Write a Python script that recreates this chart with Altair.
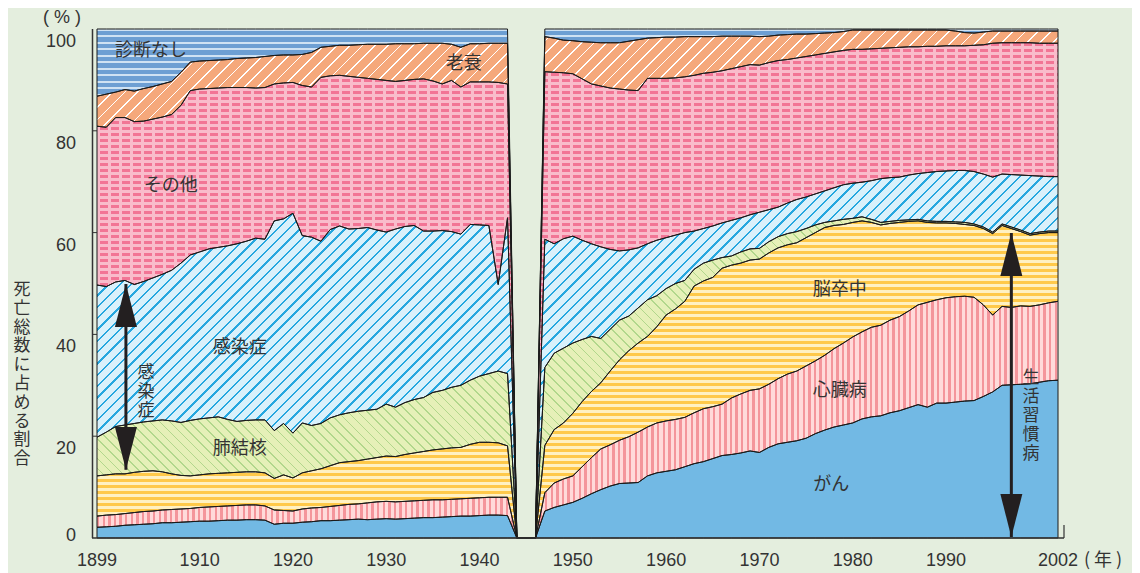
import math
import numpy as np
import pandas as pd
import altair as alt

# ---------------------------------------------------------------- data
CAUSES = ["がん", "心臓病", "脳卒中", "肺結核", "感染症", "その他", "老衰", "診断なし"]

YEARS_PRE = list(range(1899, 1944))
YEARS_GAP = [1944, 1945, 1946]
YEARS_POST = list(range(1947, 2003))

# upper edge of each band (cumulative %), 1899-1943
CANCER_PRE = [2.1, 2.2, 2.3, 2.5, 2.6, 2.7, 2.8, 3.0, 3.0, 3.1,
              3.2, 3.3, 3.3, 3.4, 3.5, 3.5, 3.6, 3.6, 3.5, 2.7,
              2.9, 2.9, 3.1, 3.2, 3.4, 3.4, 3.5, 3.6, 3.7, 3.6,
              3.7, 3.8, 3.7, 3.8, 3.9, 4.0, 4.0, 4.1, 4.2, 4.3,
              4.3, 4.4, 4.5, 4.5, 4.4]
HEART_PRE = [4.3, 4.5, 4.6, 4.8, 5.0, 5.2, 5.3, 5.5, 5.6, 5.7,
             5.8, 6.0, 6.1, 6.2, 6.3, 6.4, 6.5, 6.5, 6.3, 5.5,
             5.4, 5.3, 5.7, 5.9, 6.0, 6.2, 6.4, 6.6, 6.7, 6.9,
             7.1, 7.2, 7.1, 7.2, 7.3, 7.4, 7.5, 7.5, 7.6, 7.7,
             7.8, 7.9, 8.0, 8.0, 8.0]
STROKE_PRE = [12.2, 12.4, 12.6, 12.6, 12.9, 13.1, 13.2, 13.0, 12.6, 12.3,
              12.2, 12.4, 12.6, 12.7, 12.8, 12.9, 13.0, 13.0, 12.8, 11.7,
              12.4, 11.8, 12.8, 13.2, 13.6, 14.2, 14.8, 15.0, 15.2, 15.5,
              15.8, 16.1, 16.0, 16.4, 16.7, 17.0, 17.3, 17.5, 17.7, 17.8,
              18.4, 18.8, 18.8, 18.7, 18.1]
TB_PRE = [19.8, 20.8, 21.9, 22.2, 22.5, 22.8, 23.0, 23.2, 23.0, 22.7,
          23.1, 23.4, 23.6, 23.8, 23.3, 22.9, 23.1, 23.2, 23.2, 21.1,
          22.5, 20.6, 22.6, 22.1, 22.5, 23.6, 24.2, 24.6, 24.9, 25.1,
          25.3, 26.3, 25.7, 26.6, 27.2, 27.6, 28.6, 29.0, 29.6, 30.0,
          31.0, 31.8, 32.3, 32.8, 32.3]
INFECT_PRE = [49.7, 49.4, 50.3, 50.6, 49.8, 50.4, 51.1, 51.8, 52.6, 54.0,
              55.6, 56.2, 56.8, 57.1, 57.4, 57.8, 58.3, 58.9, 58.7, 62.3,
              62.7, 63.8, 59.4, 59.1, 58.3, 60.6, 61.3, 60.7, 60.8, 61.0,
              60.5, 60.1, 60.7, 61.2, 61.4, 60.3, 60.3, 60.4, 60.2, 59.7,
              61.6, 61.5, 61.4, 49.8, 62.9]
OTHER_PRE = [80.9, 80.7, 82.6, 82.6, 81.8, 81.9, 82.3, 82.7, 83.2, 85.0,
             87.9, 88.2, 88.3, 88.4, 88.5, 88.5, 88.5, 88.4, 88.5, 89.2,
             89.4, 89.5, 88.9, 88.6, 90.5, 90.8, 90.9, 90.7, 90.5, 90.3,
             90.1, 89.9, 89.7, 89.9, 90.1, 90.2, 89.8, 89.2, 89.9, 88.6,
             89.6, 89.6, 89.6, 89.5, 89.2]
SENILITY_PRE = [86.8, 87.2, 87.6, 88.1, 87.8, 88.3, 88.7, 89.2, 89.7, 91.5,
                93.5, 93.7, 93.8, 93.9, 94.0, 94.2, 94.3, 94.4, 94.6, 94.8,
                94.9, 94.9, 95.0, 95.4, 96.4, 96.6, 96.8, 96.8, 96.9, 97.0,
                97.0, 97.0, 97.1, 97.1, 97.1, 97.2, 97.2, 97.2, 97.0, 96.4,
                97.1, 97.1, 97.2, 97.2, 97.2]
NODIAG_PRE = [100.0] * 45

# upper edge of each band (cumulative %), 1947-2002
CANCER_POST = [5.3, 6.0, 6.5, 7.0, 7.8, 8.7, 9.5, 10.2, 10.7, 10.8,
               10.9, 12.2, 12.8, 13.1, 13.4, 14.0, 14.6, 15.0, 15.6, 16.2,
               16.4, 16.7, 17.1, 16.8, 17.8, 18.5, 18.8, 19.1, 19.6, 20.5,
               21.2, 21.8, 22.2, 22.6, 23.4, 23.8, 24.0, 24.6, 25.0, 25.6,
               26.2, 25.7, 26.5, 26.5, 26.7, 26.9, 27.0, 27.8, 28.7, 30.0,
               30.1, 30.2, 30.3, 30.6, 30.9, 31.0]
HEART_POST = [8.9, 10.8, 11.6, 12.2, 14.0, 15.8, 17.5, 18.3, 19.2, 19.9,
              20.8, 21.8, 22.6, 23.0, 23.3, 23.7, 24.6, 25.4, 25.8, 26.3,
              27.5, 28.3, 29.0, 29.3, 30.2, 31.3, 32.2, 32.8, 33.8, 34.8,
              35.9, 37.2, 38.3, 39.5, 40.5, 41.4, 41.8, 42.8, 43.5, 44.6,
              45.8, 46.3, 46.8, 47.2, 47.4, 47.5, 47.3, 45.8, 43.8, 45.5,
              45.3, 45.6, 45.5, 45.8, 46.2, 46.5]
STROKE_POST = [18.2, 21.3, 22.6, 24.5, 26.8, 28.8, 30.5, 32.8, 35.0, 36.8,
               38.3, 39.6, 41.5, 43.8, 45.0, 46.5, 49.5, 50.5, 51.2, 53.0,
               53.6, 54.0, 54.6, 54.8, 56.0, 57.0, 57.6, 58.0, 59.0, 60.0,
               61.0, 61.4, 61.6, 62.0, 62.3, 62.0, 61.5, 61.8, 62.0, 62.2,
               62.3, 62.0, 61.9, 61.9, 61.8, 61.6, 61.4, 60.8, 59.8, 61.4,
               60.8, 60.2, 59.5, 59.8, 60.0, 60.0]
TB_POST = [33.5, 36.3, 37.3, 38.3, 39.0, 39.6, 39.2, 41.0, 42.8, 43.6,
           45.2, 46.8, 47.6, 49.0, 50.0, 50.6, 52.8, 54.0, 54.6, 55.1,
           55.4, 56.2, 56.8, 56.9, 58.2, 59.2, 59.8, 60.2, 60.8, 61.5,
           62.0, 62.3, 62.6, 62.8, 63.1, 62.6, 62.0, 62.2, 62.4, 62.5,
           62.6, 62.3, 62.2, 62.2, 62.1, 62.0, 61.7, 61.1, 60.1, 61.7,
           61.1, 60.5, 59.8, 60.1, 60.3, 60.3]
INFECT_POST = [58.7, 57.8, 58.8, 59.3, 58.5, 57.8, 57.2, 56.7, 56.4, 56.6,
               57.0, 57.8, 58.5, 59.0, 59.5, 60.0, 60.3, 60.8, 61.3, 61.9,
               62.4, 62.9, 63.5, 64.0, 64.5, 65.0, 65.8, 66.5, 67.0, 67.6,
               68.2, 68.8, 69.4, 69.7, 69.9, 70.2, 70.6, 70.8, 70.9, 71.3,
               71.6, 71.8, 72.0, 72.1, 72.2, 72.2, 72.0, 71.5, 70.9, 71.5,
               71.4, 71.3, 71.2, 71.1, 71.0, 71.0]
OTHER_POST = [91.6, 91.5, 91.4, 91.2, 90.2, 89.2, 88.8, 88.4, 88.2, 88.0,
              87.9, 90.3, 90.3, 90.3, 90.4, 90.6, 90.9, 91.3, 91.5, 91.8,
              92.2, 92.6, 93.0, 92.9, 93.4, 93.8, 94.0, 94.3, 94.6, 94.9,
              95.2, 95.5, 95.8, 96.0, 96.0, 96.1, 96.2, 96.3, 96.4, 96.5,
              96.5, 96.6, 96.6, 96.7, 96.7, 96.7, 96.8, 96.9, 97.2, 97.3,
              97.3, 97.3, 97.3, 97.2, 97.2, 97.2]
SENILITY_POST = [98.5, 98.2, 97.8, 97.7, 97.5, 97.4, 97.3, 97.3, 97.3, 97.6,
                 97.9, 98.2, 98.3, 98.4, 98.4, 98.5, 98.5, 98.5, 98.5, 98.6,
                 98.6, 98.6, 98.6, 98.5, 98.6, 98.8, 98.9, 99.0, 99.0, 99.1,
                 99.2, 99.3, 99.5, 99.8, 99.8, 99.8, 99.8, 99.8, 99.8, 99.8,
                 99.8, 99.8, 99.8, 99.8, 99.6, 99.3, 99.2, 99.4, 99.6, 99.6,
                 99.6, 99.6, 99.6, 99.6, 99.6, 99.6]
NODIAG_POST = [100.0] * 56
GAP_VALUES = [0.0, 0.0, 0.0]   # no data 1944-1946

TICK_YEARS = [1899, 1910, 1920, 1930, 1940, 1950, 1960, 1970, 1980, 1990, 2002]
TICK_PCT = [0, 20, 40, 60, 80, 100]

LABELS = ["診断なし", "老衰", "その他", "感染症", "肺結核", "脳卒中", "心臓病", "がん"]
LABEL_YEAR = [1904.8, 1938.3, 1906.9, 1914.3, 1914.3, 1978.6, 1978.6, 1977.7]
LABEL_PCT = [95.6, 93.2, 69.1, 37.4, 17.4, 48.8, 28.8, 10.5]

VLABELS = ["感\n染\n症", "生\n活\n習\n慣\n病"]
VLABEL_YEAR = [1904.25, 1999.1]
VLABEL_PCT = [32.5, 31.5]

ARROW_YEAR = [1902.1, 1997.0]
ARROW_TOP = [49.9, 59.9]
ARROW_BOTTOM = [13.4, 0.2]

YTITLE = "\n".join("死亡総数に占める割合")

# ---------------------------------------------------------------- table
PRE = [CANCER_PRE, HEART_PRE, STROKE_PRE, TB_PRE, INFECT_PRE, OTHER_PRE,
       SENILITY_PRE, NODIAG_PRE]
POST = [CANCER_POST, HEART_POST, STROKE_POST, TB_POST, INFECT_POST, OTHER_POST,
        SENILITY_POST, NODIAG_POST]

years = YEARS_PRE + YEARS_GAP + YEARS_POST
tops = [np.array(a + GAP_VALUES + b, dtype=float) for a, b in zip(PRE, POST)]

rows = []
cum = np.zeros(len(years))
for i, name in enumerate(CAUSES):
    share = np.clip(tops[i] - cum, 0, None)
    cum = cum + share
    for y, s in zip(years, share):
        rows.append({"year": y, "cause": name, "order": i, "share": round(float(s), 3)})
df = pd.DataFrame(rows)

# ---------------------------------------------------------------- layout / styles
W, H = 961, 509
TXT = "#333333"
JP = "Noto Sans CJK JP"
LAT = "Liberation Sans"

band_h = [H * float(t.max()) / 100.0 for t in tops]


def stripe_stops(bg, fg, period, width, length):
    out = [{"offset": 0.0, "color": bg}]
    k = 0
    while True:
        s = k * period
        if s >= length:
            break
        e = min(s + width, length)
        so, eo = round(s / length, 5), round(e / length, 5)
        out += [{"offset": so, "color": bg}, {"offset": so, "color": fg},
                {"offset": eo, "color": fg}, {"offset": eo, "color": bg}]
        k += 1
    out.append({"offset": 1.0, "color": bg})
    return out


def horiz(bg, fg, period, width, h):
    return alt.LinearGradient(gradient="linear", stops=stripe_stops(bg, fg, period, width, h),
                              x1=0, y1=0, x2=0, y2=1)


def vert(bg, fg, period, width, w):
    return alt.LinearGradient(gradient="linear", stops=stripe_stops(bg, fg, period, width, w),
                              x1=0, y1=0, x2=1, y2=0)


def diag_up(bg, fg, period, width, w, h):  # "/" stripes
    k = (w + h) / (w * w + h * h)
    L = (w + h) / math.sqrt(2)
    return alt.LinearGradient(gradient="linear", stops=stripe_stops(bg, fg, period, width, L),
                              x1=0, y1=0, x2=k * w, y2=k * h)


def diag_down(bg, fg, period, width, w, h):  # "\" stripes
    k = (w + h) / (w * w + h * h)
    L = (w + h) / math.sqrt(2)
    return alt.LinearGradient(gradient="linear", stops=stripe_stops(bg, fg, period, width, L),
                              x1=0, y1=1, x2=k * w, y2=1 - k * h)


FILLS = {
    "がん": ["#72B9E4"],
    "心臓病": [vert("#FFDADA", "#F4959B", 5.6, 2.4, W)],
    "脳卒中": [horiz("#FFF1C2", "#FFC94A", 6.0, 2.8, band_h[2])],
    "肺結核": [diag_down("#E6F0B8", "#B2D78C", 7.0, 1.2, W, band_h[3])],
    "感染症": [diag_up("#D9F1FB", "#26A7DF", 8.0, 1.7, W, band_h[4])],
    "その他": [horiz("#F9BCCB", "#F27595", 6.0, 3.4, band_h[5]),
              vert("transparent", "#F9BCCB", 11.0, 2.6, W)],
    "老衰": [diag_up("#F5A87B", "#FFFFFF", 9.0, 1.2, W, band_h[6])],
    "診断なし": [horiz("#6D9FD3", "#CFE2F3", 6.5, 1.5, band_h[7])],
}

XS = alt.Scale(domain=[1899, 2002], nice=False, zero=False)
YS = alt.Scale(domain=[0, 100], nice=False, zero=True)


def xq(field="year"):
    return alt.X(f"{field}:Q", scale=XS, axis=None)


def yq(field):
    return alt.Y(f"{field}:Q", scale=YS, axis=None)


base = alt.Chart(df).transform_stack(
    stack="share", groupby=["year"], as_=["lo", "hi"],
    sort=[alt.SortField("order", order="ascending")])

layers = []
for name in CAUSES:
    for fill in FILLS[name]:
        layers.append(
            base.transform_filter(alt.datum.cause == name)
            .mark_area(fill=fill, strokeWidth=0, interpolate="linear")
            .encode(x=xq(), y=yq("hi"), y2="lo:Q")
        )

layers.append(base.mark_area(fillOpacity=0, color="#000000", stroke="#1a1a1a",
                             strokeWidth=1, interpolate="linear").encode(
    x=xq(), y=yq("hi"), y2="lo:Q", detail="cause:N"))

# axis lines, ticks and tick labels
pct_df = pd.DataFrame({"v": TICK_PCT})
layers.append(alt.Chart(pct_df).transform_filter("datum.v == 0")
              .mark_rule(color=TXT, strokeWidth=1.5).encode(
    y=yq("v"), x=alt.value(-5), x2=alt.value(967)))
layers.append(alt.Chart(pct_df).transform_filter("datum.v == 0")
              .mark_rule(color=TXT, strokeWidth=1.5).encode(
    x=alt.value(-4.5), y=yq("v"), y2=alt.Y2(datum=100)))
layers.append(alt.Chart(pct_df).transform_filter("datum.v == 0")
              .mark_rule(color=TXT, strokeWidth=1.2).encode(
    x=alt.value(967), y=alt.value(H - 13), y2=alt.value(H)))
layers.append(alt.Chart(pct_df).transform_filter("datum.v > 0 && datum.v < 100")
              .mark_rule(color=TXT, strokeWidth=1).encode(
    y=yq("v"), x=alt.value(-4), x2=alt.value(0)))
layers.append(alt.Chart(pct_df).transform_filter("datum.v > 0")
              .mark_text(align="right", baseline="middle", dy=13, fontSize=18,
                         font=LAT, color=TXT).encode(
    y=yq("v"), x=alt.value(-21), text="v:Q"))
layers.append(alt.Chart(pct_df).transform_filter("datum.v == 0")
              .mark_text(align="right", baseline="middle", dy=-2, fontSize=18,
                         font=LAT, color=TXT).encode(
    y=yq("v"), x=alt.value(-21), text="v:Q"))

yr_df = pd.DataFrame({"year": TICK_YEARS})
layers.append(alt.Chart(yr_df).mark_text(
    align="center", baseline="top", fontSize=18, font=LAT, color=TXT).encode(
    x=xq(), y=alt.value(H + 14), text=alt.Text("year:Q", format="d")))

# unit texts and axis title
layers.append(alt.Chart(pd.DataFrame({"t": ["( % )"]})).mark_text(
    align="center", baseline="middle", fontSize=18, font=LAT, color=TXT).encode(
    x=alt.value(-35), y=alt.value(-11), text="t:N"))
layers.append(alt.Chart(pd.DataFrame({"t": ["( 年 )"]})).mark_text(
    align="center", baseline="middle", fontSize=18, font=JP, color=TXT).encode(
    x=alt.value(1006), y=alt.value(532), text="t:N"))
layers.append(alt.Chart(pd.DataFrame({"t": [YTITLE]})).mark_text(
    align="center", baseline="middle", fontSize=17, font=JP, color=TXT,
    lineBreak="\n", lineHeight=18.8).encode(
    x=alt.value(-75), y=alt.value(261), text="t:N"))

# band labels
lab_df = pd.DataFrame({"label": LABELS, "year": LABEL_YEAR, "pct": LABEL_PCT})
layers.append(alt.Chart(lab_df).mark_text(
    align="center", baseline="middle", fontSize=18, font=JP, color=TXT).encode(
    x=xq(), y=yq("pct"), text="label:N"))

# arrows
arr_df = pd.DataFrame({"year": ARROW_YEAR, "top": ARROW_TOP, "bottom": ARROW_BOTTOM})
UP = "M 0 0 L 0.5 1.95 L -0.5 1.95 Z"
DOWN = "M 0 0 L 0.5 -1.95 L -0.5 -1.95 Z"
layers.append(alt.Chart(arr_df).mark_rule(color="#231F20", strokeWidth=3).encode(
    x=xq(), y=yq("top"), y2="bottom:Q"))
layers.append(alt.Chart(arr_df).mark_point(shape=UP, size=1936, filled=True, opacity=1,
                                           color="#231F20", strokeWidth=0).encode(
    x=xq(), y=yq("top")))
layers.append(alt.Chart(arr_df).mark_point(shape=DOWN, size=1936, filled=True, opacity=1,
                                           color="#231F20", strokeWidth=0).encode(
    x=xq(), y=yq("bottom")))

vlab_df = pd.DataFrame({"label": VLABELS, "year": VLABEL_YEAR, "pct": VLABEL_PCT})
layers.append(alt.Chart(vlab_df).mark_text(
    align="center", baseline="middle", fontSize=17, font=JP, color=TXT,
    lineBreak="\n", lineHeight=19).encode(
    x=xq(), y=yq("pct"), text="label:N"))

chart = alt.layer(*layers).properties(
    width=W, height=H,
    padding={"left": 89, "top": 21, "right": 74, "bottom": 36},
    autosize="none",
    background="#E4EEDE",
).configure_view(strokeWidth=0)

chart.save("out.html", embed_options={"renderer": "svg", "actions": False})
